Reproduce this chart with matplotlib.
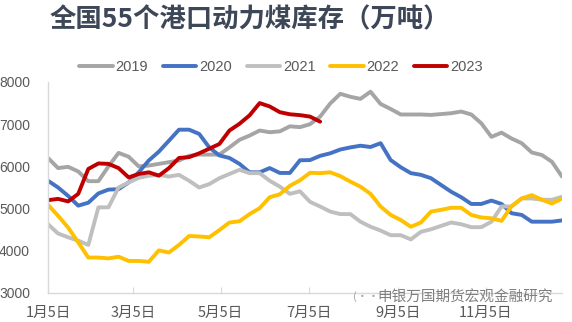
import numpy as np
import matplotlib
matplotlib.use("Agg")
import matplotlib.pyplot as plt

plt.rcParams['font.family'] = ['Noto Sans CJK SC', 'DejaVu Sans']

title = "全国55个港口动力煤库存（万吨）"
tick_labels = ["1月5日", "3月5日", "5月5日", "7月5日", "9月5日", "11月5日"]
tick_days = [0, 59, 120, 181, 243, 304]
years = ["2019", "2020", "2021", "2022", "2023"]
colors = ["#A5A5A5", "#4472C4", "#BFBFBF", "#FFC000", "#C00000"]

s2019 = [6200, 5960, 5990, 5880, 5650, 5650, 6000, 6320, 6230, 6000, 6020, 6060, 6100,
         6140, 6250, 6280, 6280, 6280, 6450, 6630, 6730, 6850, 6810, 6830, 6950, 6930,
         7000, 7180, 7490, 7720, 7650, 7600, 7770, 7480, 7360, 7230, 7230, 7230, 7220,
         7240, 7260, 7300, 7230, 7020, 6700, 6800, 6660, 6550, 6330, 6270, 6110, 5760]
s2020 = [5660, 5500, 5300, 5070, 5140, 5360, 5450, 5460, 5620, 5860, 6140, 6350, 6610,
         6870, 6870, 6770, 6450, 6260, 6200, 6060, 5860, 5860, 5960, 5845, 5845, 6145,
         6150, 6250, 6310, 6400, 6450, 6490, 6460, 6550, 6150, 5980, 5840, 5800, 5720,
         5560, 5400, 5270, 5110, 5110, 5190, 5110, 4890, 4850, 4690, 4690, 4690, 4720]
s2021 = [4630, 4410, 4320, 4240, 4140, 5030, 5030, 5500, 5620, 5730, 5780, 5800, 5760,
         5800, 5660, 5500, 5580, 5720, 5820, 5920, 5840, 5840, 5660, 5520, 5350, 5410,
         5160, 5050, 4930, 4870, 4870, 4690, 4570, 4480, 4370, 4370, 4270, 4450, 4510,
         4590, 4670, 4630, 4560, 4560, 4690, 5050, 5050, 5240, 5240, 5210, 5210, 5280]
s2022 = [5090, 4830, 4550, 4200, 3840, 3840, 3820, 3860, 3760, 3760, 3740, 4010, 3960,
         4140, 4350, 4340, 4320, 4490, 4670, 4700, 4870, 5010, 5270, 5340, 5540, 5670,
         5850, 5840, 5860, 5770, 5640, 5520, 5350, 5050, 4850, 4730, 4570, 4670, 4930,
         4970, 5020, 5020, 4850, 4790, 4770, 4710, 5060, 5240, 5320, 5210, 5120, 5240]
s2023 = [5200, 5230, 5170, 5350, 5940, 6070, 6060, 5960, 5740, 5820, 5860, 5780, 5960,
         6200, 6220, 6310, 6420, 6530, 6850, 7010, 7210, 7500, 7420, 7285, 7235, 7215,
         7180, 7060]
series = [s2019, s2020, s2021, s2022, s2023]

fig = plt.figure(figsize=(5.72, 3.22), dpi=100)
ax = fig.add_axes([48/572, 29/322, 514/572, 211/322])

for name, vals, c in zip(years, series, colors):
    x = np.arange(len(vals)) * 7
    ax.plot(x, vals, color=c, lw=2.8, label=name, solid_joinstyle='round', solid_capstyle='round')

ax.set_xlim(0, 357)
ax.set_ylim(3000, 8000)
ax.set_yticks([3000, 4000, 5000, 6000, 7000, 8000])
ax.set_xticks(tick_days)
ax.set_xticklabels(tick_labels)
for s in ['top', 'right']:
    ax.spines[s].set_visible(False)
for s in ['left', 'bottom']:
    ax.spines[s].set_color('#D9D9D9')
    ax.spines[s].set_linewidth(1.0)
ax.tick_params(axis='x', direction='in', length=4, color='#D9D9D9', labelsize=10.5,
               labelcolor='#595959', pad=9)
ax.tick_params(axis='y', length=0, labelcolor='#595959', pad=13)
for lab in ax.get_yticklabels():
    lab.set_family(['Liberation Sans'])
    lab.set_fontsize(10)

fig.text(250/572, 1 - 20/322, title, ha='center', va='center', fontsize=19,
         fontweight='bold', color='#3E4757')

leg = fig.legend(loc='center', bbox_to_anchor=(281/572, 1 - 67/322), ncol=5, frameon=False,
                 fontsize=10, handlelength=2.3, columnspacing=1.0, handletextpad=0.2,
                 labelcolor='#595959', prop={'family': ['Liberation Sans'], 'size': 10.5})

fig.text(553/572, 1 - 297/322, "申银万国期货宏观金融研究", ha='right', va='center',
         fontsize=10.5, color='#7F7F7F')
fig.text(366/572, 1 - 297/322, "(··", ha='center', va='center', fontsize=8, color='#A0A0A0')

fig.savefig("out.png", dpi=100)
